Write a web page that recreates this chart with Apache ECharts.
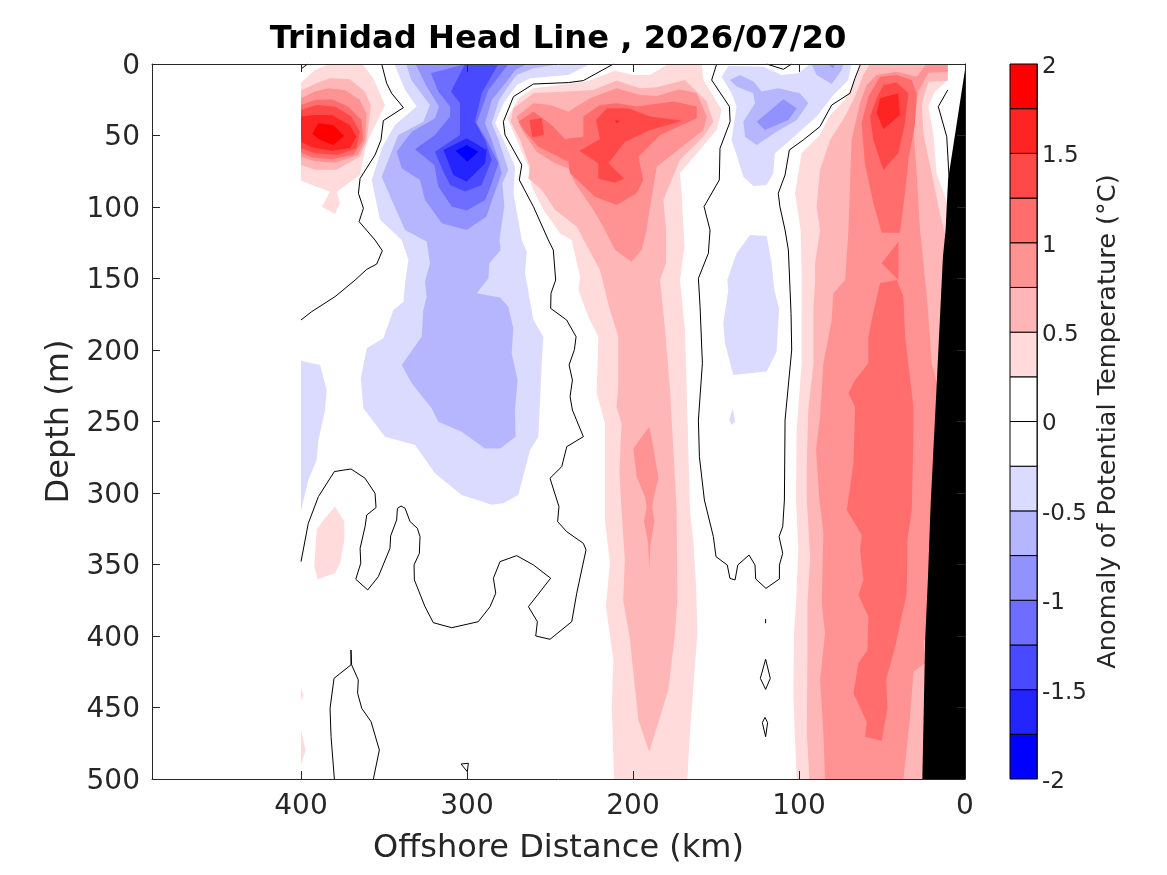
<!DOCTYPE html>
<html>
<head>
<meta charset="utf-8">
<style>html,body{margin:0;padding:0;background:#fff}#c{width:1167px;height:875px}</style>
<script src="https://cdn.jsdelivr.net/npm/echarts@6/dist/echarts.min.js"></script>
</head>
<body>
<div id="c"></div>
<script>
// Colour classes (degrees C): lower edge of each colourbar band
const barEdges = [-2,-1.75,-1.5,-1.25,-1,-0.75,-0.5,-0.25,0,0.25,0.5,0.75,1,1.25,1.5,1.75];
const barColors = ['#0000ff','#2424ff','#4949ff','#6d6dff','#9292ff','#b6b6ff','#dbdbff','#ffffff','#ffffff','#ffdbdb','#ffb6b6','#ff9292','#ff6d6d','#ff4949','#ff2424','#ff0000'];
const depthTicks = [0,50,100,150,200,250,300,350,400,450,500];
const distanceTicks = [0,100,200,300,400];

// Filled contour outlines, [offshore km, depth m]
const westP025 = [[400,13.1],[391.6,4.2],[384.5,0.7],[362.6,0.7],[356.6,9.8],[349.4,28.7],[360.4,55.2],[364.5,77.6],[378.5,89.3],[376.5,97.2],[379.5,104.9],[387.4,99.8],[382.5,89.3],[400,81.6]];
const westP050 = [[400,18.6],[390.6,13.5],[382.5,10],[370.6,10.7],[361.6,19.3],[358,28.7],[358.6,36.8],[360.6,54.3],[364.6,64.8],[378.6,74],[391.6,74],[400,70.6]];
const westP075 = [[400,24],[391.6,19.3],[383.6,17],[373.6,18.2],[364.6,25.2],[360.6,34.5],[361.2,53.1],[365.6,63.6],[379.6,69],[391.6,68],[400,65]];
const westP100 = [[400,28.7],[391.6,25.2],[381.6,24.7],[371.6,29.8],[363.6,39.1],[362.6,53.1],[368.6,63.6],[381.6,66.6],[393.6,65.2],[400,62]];
const westP125 = [[400,32.2],[390.6,28.7],[379.6,29.8],[369.6,36.8],[364.6,47.3],[366.6,59],[377.6,63.6],[391.6,62.4],[400,59]];
const westP150 = [[400,36.8],[391.6,35.6],[381.6,35.6],[370.6,42.6],[366.6,50.8],[370.6,59],[381.6,60.6],[393.6,58.2],[400,54.3]];
const westP175 = [[393.2,49],[389.6,41.5],[380.6,42.6],[374,50.3],[380.6,56.6],[388.6,53.1]];

const coldN025 = [[343.8,0],[337.3,18.2],[330.3,29.8],[343.4,42.6],[351,57.8],[357.4,81.1],[352.4,109],[339.3,123],[335.3,137],[337.3,153.4],[338.3,166.2],[344.3,172],[350.4,191.8],[360.4,198.8],[364,219.8],[362.4,240.8],[349.4,260.6],[331.3,266.4],[319.3,286.2],[303.2,301.4],[285.2,308.3],[278.1,307.2],[269.1,301.4],[262,270],[257,260.6],[255,209.3],[254,190.7],[260,179],[265,146.4],[264,131.3],[267,123],[272,90.4],[271,71.8],[278,53.1],[283,41.5],[278,27.5],[270,14.7],[262,10],[239,7.7],[226,0]];
const coldN050 = [[336.6,0],[333.6,11.2],[322.3,28.7],[326.3,40.3],[341.4,49.6],[351.4,78.8],[345.4,95.1],[337.3,116],[324.3,124.2],[322.3,139.4],[325.3,152.2],[324.3,162.7],[326.3,172],[327.3,190.7],[339.3,210.5],[333.3,223.3],[321.3,240.8],[317.3,250.1],[303.2,257.1],[289.2,268.8],[280.1,268.8],[270.7,260.6],[271.1,242],[269.5,221],[273.1,202.3],[272.1,184.8],[275.1,169.7],[280.1,163.2],[294.2,160.4],[287.1,149.9],[286.5,139.4],[279.7,130.1],[280.5,123.1],[277.5,99.7],[278.7,83.4],[275.1,74.1],[281,53.1],[285.1,41.5],[280.7,25.2],[273.1,12.3],[270,7.7],[260,3],[244,0]];
const coldN075 = [[331,0],[324.3,15.8],[316.9,29.8],[319.3,38],[333.3,47.3],[342.4,61.3],[339.3,72.9],[328.3,81.1],[325.3,95.1],[315.2,111.4],[300.2,116],[288.2,106.7],[285.2,96.2],[279.1,76.4],[281.1,67.1],[285.1,53.1],[289.2,41.5],[285.1,25.2],[276.1,12.3],[271,4.2],[264,0]];
const coldN100 = [[301.2,0],[321.7,6.5],[317.3,19.3],[310.2,29.8],[310.2,36.8],[319.3,49.6],[331.3,59.6],[319.7,70.6],[317.3,85.7],[309.2,99.7],[300.2,102.5],[289.1,95.1],[285.1,83.4],[281.1,69.4],[288.1,53.1],[294.2,41.5],[287.1,18.2],[275,0]];
const coldN125 = [[301.2,0],[309.6,19.3],[304.2,27.5],[304.2,38],[304.2,49.6],[319.3,61.3],[314.2,75.3],[310.2,84.6],[301.2,89.2],[291.2,84.6],[285.1,67.1],[289.1,53.1],[295.2,40.3],[291.2,20.5],[281.1,0]];
const coldN150 = [[314.2,60.1],[300.2,52],[288.1,60.1],[289.1,69.4],[300.2,82.3],[308.2,77.6]];
const coldN175 = [[306.8,60.6],[300.2,56.6],[293.2,61.3],[299.8,68.3]];

const midP025 = [[178.7,0],[189.7,7.7],[199.8,7.7],[210.8,4.7],[227.9,12.3],[260,17],[269,24],[275.7,38],[270,53.1],[263,71.8],[261,85.8],[254,102],[244,118.4],[237,123.1],[231.9,148.7],[232.9,158],[226.9,176.7],[220.9,190.7],[221.5,216.3],[221.9,230.3],[216.9,251.2],[216.9,279.2],[216.9,318.9],[213.9,349.2],[216.3,379.5],[211.8,416.8],[212.8,449.4],[211.4,500],[167.3,500],[165.7,468],[161.2,398],[162,365.5],[163.6,335.2],[165.7,311.9],[167.7,225.7],[168.7,186],[171.7,151],[169,127.8],[170.7,90.4],[171.7,76.4],[149.6,46.1],[146.6,32.2],[157.6,11.2],[158.6,0]];
const midP050 = [[209.8,11.6],[223.9,18.2],[260,20.5],[272,31],[273.7,40.3],[268,53.1],[262,71.8],[263,80],[255,88],[247,102],[233.9,113.7],[225.9,131.3],[219.9,144],[213.9,172],[208.9,190.7],[208.9,225.7],[209.9,239.6],[206.9,251.3],[208.2,284],[206.9,311.9],[204.9,346.9],[205.9,374.8],[201.8,402.8],[196.8,458.7],[190.2,480.9],[178.7,437.7],[174.7,398.1],[173.3,374.8],[173.7,311.9],[177.7,228],[180.7,186],[183.7,151],[180.1,139.4],[180.1,116.1],[181.7,95.1],[171.7,67],[157.6,50.8],[151.6,40.3],[155.6,26.3],[168.7,11.2],[185.7,16.3],[195.8,17]];
const midP075 = [[209.8,17],[225.9,24],[238.9,33.3],[250,28.7],[260,27.5],[270,36.8],[267,46.1],[258,61.3],[247,69.4],[238.9,73],[234.9,83.4],[223.9,102],[216.9,116.1],[210.8,130.1],[200.8,138.2],[194.8,130.1],[191.8,116.1],[190.7,106.8],[185.7,71.8],[157.6,46.1],[155.6,36.8],[161.6,20.5],[171.7,17.7],[185.7,22.4],[195.8,21.7]];
const midP075b = [[190.2,253.6],[199.8,268.8],[197.8,288.6],[192.8,302.6],[191.8,309.6],[193.4,320],[190.8,335.2],[190.2,352.7],[189.4,335.2],[187.1,320],[188.4,309.6],[187.8,304.9],[184.7,289.8],[187.8,267.6]];
const midP100 = [[269,40.3],[260,33.3],[249,42.6],[241,52.4],[229.9,50.8],[229.9,36.8],[219.9,28.7],[209.8,27.5],[197.8,29.8],[175.7,26.3],[161.6,29.8],[161.6,38],[183.7,49.6],[196.8,64.8],[193.8,81.1],[197.8,90.4],[209.8,98.6],[222.9,92.8],[237.9,76.4],[238.9,68.3],[257,57.8],[265,47.3]];
const midP125a = [[262.4,39.1],[255,38],[253.6,49.6],[260.6,51.3]];
const midP125b = [[215.8,31],[202.8,31],[189.7,36.8],[170.1,39.6],[189.7,46.1],[204.8,54.3],[214.8,69.4],[205.4,80],[210.8,83],[220.9,80],[220.9,69.4],[232.3,60.6],[219.9,52.7],[222.3,39.1]];
const midP150 = [[210.8,39.1],[207.8,39.8],[210.2,41.5]];

const topN025 = [[146.6,8.9],[142.6,1.4],[121.5,1.9],[110.5,7.7],[100.4,6.5],[93.4,0],[68.3,0],[70.3,11.2],[79.3,21.7],[89.4,36.8],[107.4,55.5],[114.5,62.4],[115.5,76.4],[119.5,84.6],[127.5,85.3],[133.5,78.8],[137.6,63.6],[140.6,53.1],[137.6,29.8],[140.6,20.5]];
const topN050a = [[92.4,0],[89.4,7.7],[80.3,14],[74.3,4.2],[73.3,0]];
const topN075a = [[83.3,0],[79.3,3],[78.3,0]];
const topN050b = [[141.6,11.2],[135.6,7.7],[127.5,12.3],[122.5,19.3],[112.5,17],[99.4,20.5],[94.4,27.5],[101.4,39.1],[113.5,47.3],[125.5,56.6],[132.5,50.8],[133.5,40.3],[126.5,27.5],[127.5,20.5],[137.6,15.8]];
const topN075b = [[109.4,24.7],[101.4,31],[106.4,39.1],[120.5,46.1],[125.5,40.3]];
const ovalN025 = [[129.5,119.6],[119.5,120.3],[116.5,139.4],[114.9,158],[112,170.9],[113.5,201.2],[119.5,215.1],[139.6,217.5],[144.6,195.3],[145.6,181.4],[142.6,158],[143.2,151],[137.6,132.4]];
const specN025 = [[139.9,240.8],[138.5,250.1],[140.6,252.5],[142,248.9]];
const edgeN025 = [[400,207.5],[388.5,210.5],[384.5,228],[385.5,242],[389.5,263],[390.6,277],[395.6,291],[400,312]];
const deepP025 = [[379.5,309.5],[373.9,320],[373.9,332.8],[376.5,349.2],[379.5,356.2],[390,360.4],[392,351.5],[390.6,325.9],[386.5,318.9]];
const edgeP025a = [[400,437.3],[398.4,441.2],[400,445.2]];
const edgeP025b = [[400,465.7],[397.2,479.7],[400,490.2]];

const coastP025 = [[62.3,0],[10.4,0],[10.4,11.2],[18.1,19.3],[22.1,29.8],[19.1,48.5],[17.1,76.4],[11,96.3],[5,100],[5,500],[101.4,500],[103.4,442.4],[103,398],[101.8,377],[100.4,339.9],[101.8,304.9],[101.4,256],[98.4,209.3],[98.4,146.4],[99,116.1],[102.4,90.4],[98.4,62.4],[87.4,49.6],[81.3,35.7],[72.3,25.2],[67.3,13.5]];
const coastP050 = [[57.2,0],[10.4,0],[10.4,11.7],[22,12.4],[26,27.5],[25.1,48.5],[20.1,76.4],[15.1,104.4],[11,124.2],[5,135],[5,500],[93.7,500],[95.3,468],[94.9,409.8],[94.9,377.2],[93.3,344.5],[95.3,304.9],[95.3,279.3],[94.4,241.9],[91.3,209.3],[91.3,169.7],[90.3,153.4],[90.3,139.4],[87.3,116],[89.4,99.8],[87.4,74.1],[81.3,53.1],[72.3,36.8],[66.3,22.8],[61.3,7.7]];
const coastP075 = [[53.2,7.7],[41.2,5.4],[29.1,8.9],[23.1,0],[10.4,0],[10.4,5.4],[22.1,6.1],[28.1,19.3],[31.1,43.8],[29.1,76.4],[27.1,116],[23,162.7],[21,193],[20,209.3],[17,223.3],[10,230],[10,400],[25,402.8],[24,419.1],[31,424.9],[33.1,456.4],[37.1,500],[84.3,500],[85.3,468],[87.3,430.7],[84.3,398.1],[86.3,377.2],[85.3,328.2],[87.7,304.9],[89.7,270],[87.3,246.6],[85.3,209.3],[80.3,179],[79.3,160.4],[72.2,151],[70.2,116.1],[68.3,53.1],[63.3,27.5],[59.2,14.7]];
const coastP100a = [[51.2,8.9],[58.2,22.8],[62.3,41.5],[60.3,69.5],[55.2,97.4],[50.2,118],[39.2,118],[36.2,90.4],[34.1,67.1],[30.1,41.5],[29.1,20.5],[32.1,11.2],[41.2,7.7]];
const coastP100b = [[40.1,124.3],[50.2,139.4],[40.1,151]];
const coastP100c = [[51.2,153.4],[41.1,151],[37.1,162.7],[36.1,190.7],[31.1,239.6],[31.1,260.6],[32.1,311.9],[34.7,332.9],[35.1,370.1],[42.1,407.5],[47.5,430.7],[46.7,450.5],[50.2,473.2],[60.2,470.4],[59.2,459.9],[67.2,440],[64.2,419],[58.8,409.8],[58.2,386.5],[64.2,371.3],[61.2,360.8],[63.2,339.9],[62.2,329.4],[71.2,311.9],[67.2,279.3],[66.2,239.6],[70.2,230.3],[66.2,221],[58.2,209.3],[58.2,190.7],[56.2,179]];
const coastP125 = [[49.2,14.7],[41.2,13],[34.1,20.5],[36.2,41.5],[40.2,62.4],[49.2,74.1],[55.2,53.1],[57.2,36.8],[53.2,24]];
const coastP150 = [[51.2,24],[40.2,20.5],[39.2,35.6],[49.2,45.7],[53.2,34.5]];

const seabed = [[0,4],[10.2,81],[11.7,116],[13.3,135],[17,223],[20.7,308],[22.3,359],[24,403],[25.7,500],[0,500]];

// Zero contour polylines, [offshore km, depth m]
const zeroA = [[400,3.5],[396,0]];
const zeroB = [[351.4,0],[348.4,13.5],[345.4,20.5],[338.3,30.5],[350.4,39.6],[351.8,53.1],[355.4,63.6],[364.4,80],[365.4,90.4],[362.4,100.9],[365,110.2],[355.4,123.1],[351,130.6],[354.4,139.9],[360.4,143.6],[367.4,151.1],[379.5,162.7],[393.6,173.2],[400,179]];
const zeroC = [[211.8,0],[229.9,11.6],[238.9,13],[260,14],[272,22.8],[278.1,40.3],[277.1,49.6],[267,70.6],[268.5,81.1],[260,99.7],[251,123.1],[248,130.1],[246.6,151.1],[249.4,160.4],[249.6,170.9],[240,179],[234.3,190.7],[235.3,199.8],[238.5,210.5],[236.5,221],[237.9,232.6],[236.5,242],[229.9,260.6],[239.9,267.6],[242.9,281.5],[250,289.7],[244.6,309.5],[245.4,320],[240,327],[229.9,335.2],[228.3,339.8],[233.9,370.1],[236.9,390],[250,402.3],[258.6,400],[257.6,390],[263,379.5],[249.6,359.6],[260,350.3],[270.1,343.8],[280.1,348],[284.1,359.6],[282.7,370.1],[286.1,379.5],[293.2,390],[309.2,394.2],[320.3,390.7],[325.3,379.5],[331.7,360.8],[331.9,350.3],[328.7,342.2],[328.3,330.5],[329.9,324.7],[334.3,320],[337.3,310.7],[339.7,309.1],[341.9,310.7],[342.4,318.9],[346,330],[346.4,338.7],[353.4,358.5],[359.8,367.8],[367,360.3],[364,349.1],[364.4,338.7],[361.4,323.5],[360.4,315.4],[354.8,310.2],[355.4,300.2],[361.4,289.7],[369.9,283.2],[379.9,285],[389.5,302.5],[395.6,321.2],[400,348]];
const zeroD = [[149.6,0],[152.6,11.2],[141.9,29.8],[141.5,40.3],[147.6,59],[148,81.1],[157.2,99.7],[153.6,116.1],[154.6,132.4],[160.6,149.9],[159.6,169.7],[158.2,209.3],[160.6,249],[160,274.6],[157,304.9],[151.6,330.5],[150,344.5],[143.2,350.4],[141.6,359.7],[138.5,360.8],[136.9,350.4],[130.1,343.4],[126.5,350.4],[126.1,360.1],[119.9,366.7],[111.8,360.1],[111.8,350.4],[109.8,342.2],[112,330.5],[109.8,323.5],[108.8,304.9],[108.4,249],[104.4,200],[104.8,174.4],[106.4,130.1],[108.4,116.1],[111.5,99.8],[112.5,90.4],[108.4,77.6],[105.8,60.1],[97.4,53.1],[87.4,43.8],[80.3,28.7],[69.3,20.5],[66.3,10],[62.9,0]];
const zeroE = [[119.5,0],[109.4,3.7],[104.4,0]];
const zeroF = [[10.4,18.2],[16.1,29.8],[11,50.8],[9.4,83.4]];
const zeroG = [[379.9,500],[381.9,470.4],[382.5,450.6],[380.1,429.6],[369.9,420.2],[369.9,409.8],[369.3,409.8],[369.5,420.2],[365.5,430.7],[365.9,440],[363.4,450.6],[357.8,459.9],[352.8,479.7],[356.4,500]];
const zeroH = [[303.6,489.5],[299.2,489],[299.8,494.9],[303.6,489.5]];
const zeroI = [[120.1,388.1],[120.1,391.1]];
const zeroJ = [[120.1,416.3],[117.3,429.6],[120.1,437.3],[123.3,429.6],[120.1,416.3]];
const zeroK = [[120.5,456.9],[118.9,460.6],[120.1,470.4],[122.1,460.6],[120.5,456.9]];

const filled = [
  [6,coldN025],[5,coldN050],[4,coldN075],[3,coldN100],[2,coldN125],[1,coldN150],[0,coldN175],
  [6,topN025],[5,topN050a],[4,topN075a],[5,topN050b],[4,topN075b],[6,ovalN025],[6,specN025],[6,edgeN025],
  [9,westP025],[10,westP050],[11,westP075],[12,westP100],[13,westP125],[14,westP150],[15,westP175],
  [9,midP025],[10,midP050],[11,midP075],[11,midP075b],[12,midP100],[13,midP125a],[13,midP125b],[14,midP150],
  [9,deepP025],[9,edgeP025a],[9,edgeP025b],
  [9,coastP025],[10,coastP050],[11,coastP075],[12,coastP100a],[12,coastP100b],[12,coastP100c],[13,coastP125],[14,coastP150]
];
const zeroLines = [zeroA,zeroB,zeroC,zeroD,zeroE,zeroF,zeroG,zeroH,zeroI,zeroJ,zeroK];

const ink = '#262626';
const font = 'DejaVu Sans';
const xMax = 489.76;

function polygon(points, style, api) {
  return {type:'polygon', shape:{points:points.map(p => api.coord(p))}, style:style};
}

const series = [
  {
    type:'custom', xAxisIndex:0, yAxisIndex:0, z:2, silent:true, clip:true,
    data:filled.map((f,i) => [f[1][0][0], f[1][0][1], i]),
    renderItem:(params, api) => {
      const f = filled[params.dataIndex];
      return polygon(f[1], {fill:barColors[f[0]], stroke:null}, api);
    }
  },
  {
    type:'custom', xAxisIndex:0, yAxisIndex:0, z:4, silent:true, clip:true,
    data:[[seabed[0][0], seabed[0][1]]],
    renderItem:(params, api) => polygon(seabed, {fill:'#000000', stroke:null}, api)
  }
];
zeroLines.forEach(l => series.push({
  type:'line', xAxisIndex:0, yAxisIndex:0, z:3, silent:true, data:l, showSymbol:false,
  lineStyle:{color:'#000000', width:1}, itemStyle:{color:'#000000'}
}));
series.push({
  type:'custom', xAxisIndex:2, yAxisIndex:2, z:2, silent:true,
  data:barEdges.map((e,i) => [0, e, i]),
  renderItem:(params, api) => {
    const i = params.dataIndex;
    const a = api.coord([0, barEdges[i]]);
    const b = api.coord([1, barEdges[i] + 0.25]);
    return {type:'rect', shape:{x:a[0], y:b[1], width:b[0]-a[0], height:a[1]-b[1]},
            style:{fill:barColors[i], stroke:'#000000', lineWidth:1}};
  }
});

const axisBase = {
  axisLine:{show:true, onZero:false, lineStyle:{color:ink, width:1}},
  splitLine:{show:false}, z:10
};
const kmTicks = {show:true, inside:true, length:8, lineStyle:{color:ink}, customValues:distanceTicks};
const chart = echarts.init(document.getElementById('c'), null, {renderer:'canvas'});
chart.setOption({
  animation:false,
  backgroundColor:'#ffffff',
  title:{text:'Trinidad Head Line , 2026/07/20', left:553, top:19, textAlign:'center',
         textStyle:{fontFamily:font, fontWeight:'bold', fontSize:32.2, color:'#000000'}},
  grid:[
    {left:152, top:64, width:813, height:715},
    {left:1010, top:64, width:27, height:715}
  ],
  xAxis:[
    Object.assign({}, axisBase, {gridIndex:0, type:'value', position:'bottom', inverse:true, min:0, max:xMax, interval:100,
      name:'Offshore Distance (km)', nameLocation:'middle', nameGap:54,
      nameTextStyle:{fontFamily:font, fontSize:32, color:ink},
      axisTick:kmTicks,
      axisLabel:{show:true, margin:14, fontFamily:font, fontSize:28, color:ink, customValues:distanceTicks}}),
    Object.assign({}, axisBase, {gridIndex:0, type:'value', position:'top', inverse:true, min:0, max:xMax, interval:100,
      axisTick:kmTicks, axisLabel:{show:false}}),
    {gridIndex:1, type:'value', min:0, max:1, show:false}
  ],
  yAxis:[
    Object.assign({}, axisBase, {gridIndex:0, type:'value', position:'left', inverse:true, min:0, max:500, interval:50,
      name:'Depth (m)', nameLocation:'middle', nameGap:70,
      nameTextStyle:{fontFamily:font, fontSize:32, color:ink},
      axisTick:{show:true, inside:true, length:8, lineStyle:{color:ink}},
      axisLabel:{show:true, margin:12, verticalAlign:'top', lineHeight:5, fontFamily:font, fontSize:28, color:ink}}),
    Object.assign({}, axisBase, {gridIndex:0, type:'value', position:'right', inverse:true, min:0, max:500, interval:50,
      axisTick:{show:true, inside:true, length:8, lineStyle:{color:ink}}, axisLabel:{show:false}}),
    Object.assign({}, axisBase, {gridIndex:1, type:'value', position:'right', min:-2, max:2, interval:0.5,
      name:'Anomaly of Potential Temperature (°C)', nameLocation:'middle', nameGap:58, nameRotate:90,
      nameTextStyle:{fontFamily:font, fontSize:25.6, color:ink},
      axisTick:{show:false},
      axisLabel:{show:true, margin:5, verticalAlign:'top', lineHeight:6, fontFamily:font, fontSize:23, color:ink}})
  ],
  series:series
});
</script>
</body>
</html>
